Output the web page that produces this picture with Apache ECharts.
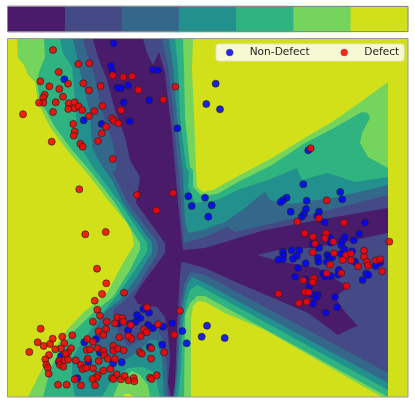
<!DOCTYPE html>
<html>
<head>
<meta charset="utf-8">
<title>Decision contours</title>
<script src="https://cdn.jsdelivr.net/npm/echarts@6/dist/echarts.min.js"></script>
<style>html,body{margin:0;padding:0;background:#fff}</style>
</head>
<body>
<div id="main" style="width:415px;height:405px;"></div>
<script type="text/javascript">
// colour steps, low to high
var levelColors = ['#4a1a6b', '#444a85', '#33688b', '#22908c', '#2fb380', '#74d45c', '#d2e01a'];
var stepNames = ['0', '1', '2', '3', '4', '5', '6'];

// contour regions, each one is "value <= level", in plot units
var region6 = [[8,39],[408,39],[408,397],[8,397]];
var region5 = [[17,39],[193,39],[192,70],[194,115],[196,170],[197,187],[203,192],[213,190],[240,175],[272,158],[308,136],[332,122],[362,101],[388,82],[388,397],[382,397],[352,380],[305,353],[265,330],[225,313],[205,302],[198,301],[193,306],[191,320],[191,397],[133,397],[130,394],[125,394],[123,397],[28,397],[33,387],[45,363],[55,347],[67,330],[83,313],[107,293],[123,263],[134,245],[132,233],[127,223],[108,200],[87,173],[67,150],[50,127],[38,103],[35,82],[28,75],[24,65],[18,58]];
var region4 = [[44,39],[183,39],[184,67],[185,117],[190,167],[193,170],[193,187],[202,196],[217,194],[240,181],[272,165],[305,143],[332,129],[362,112],[368,113],[370,118],[362,133],[360,143],[368,157],[388,168],[388,397],[205,296],[197,296],[190,303],[185,315],[184,397],[150,397],[148,385],[140,375],[132,371],[120,380],[113,397],[43,397],[50,370],[60,350],[72,333],[93,313],[113,297],[130,270],[140,250],[140,243],[115,203],[92,173],[72,150],[55,127],[40,100],[37,83],[39,72],[45,57]];
var region3 = [[60,39],[175,39],[178,67],[180,117],[186,167],[189,172],[188,187],[195,203],[217,200],[240,189],[268,180],[297,168],[302,180],[328,173],[355,182],[388,177],[388,390],[205,289],[197,285],[190,290],[186,303],[182,333],[181,367],[178,397],[160,397],[155,373],[143,367],[128,368],[110,383],[102,397],[75,397],[72,380],[72,358],[85,338],[103,313],[120,292],[135,270],[147,252],[147,243],[120,203],[93,167],[78,143],[77,127],[75,100],[72,67],[63,53]];
var region2 = [[73,39],[169,39],[173,67],[177,117],[182,167],[183,172],[185,220],[188,233],[203,230],[225,222],[245,208],[258,197],[265,192],[270,200],[290,204],[338,197],[388,185],[388,383],[205,283],[192,277],[187,285],[183,303],[180,333],[178,367],[175,397],[164,397],[162,360],[157,340],[150,340],[140,350],[125,360],[105,355],[93,345],[97,325],[105,312],[120,300],[135,280],[152,253],[152,243],[123,203],[112,180],[100,163],[92,147],[90,113],[82,80],[77,57]];
var region1 = [[83,39],[162,39],[168,67],[172,100],[175,133],[178,167],[179,172],[182,220],[184,243],[205,237],[228,227],[235,232],[295,218],[318,213],[368,200],[388,195],[388,373],[205,275],[190,272],[184,285],[181,303],[178,333],[177,367],[173,397],[168,397],[167,387],[167,367],[163,340],[157,328],[140,340],[128,347],[117,330],[113,310],[125,300],[137,287],[158,253],[158,243],[128,203],[113,173],[117,167],[113,143],[107,127],[100,103],[95,77],[88,57]];
var region0 = [[93,39],[143,39],[147,53],[153,65],[159,52],[165,73],[168,100],[172,133],[175,167],[178,203],[183,250],[205,248],[265,230],[318,220],[388,208],[388,233],[345,242],[308,248],[278,250],[257,255],[282,262],[318,268],[348,287],[335,297],[345,312],[358,326],[352,328],[338,335],[308,313],[278,300],[238,283],[205,268],[183,262],[181,263],[179,290],[178,310],[177,330],[176,357],[175,383],[173,397],[171,397],[168,383],[170,357],[168,333],[165,317],[157,307],[138,304],[134,297],[140,287],[165,253],[165,243],[136,203],[140,177],[130,160],[125,137],[115,110],[107,80],[98,57]];
var regions = [region0, region1, region2, region3, region4, region5, region6];

var nonDefect = [[113.7,43.3],[111,66],[112.3,71.3],[64.3,79.3],[153,69.7],[158,70.3],[117.3,87.7],[121,88.3],[128,85.3],[123.7,102.3],[149.3,100.3],[83.7,120.3],[101.7,124],[129.7,121.3],[177.3,128.3],[206.3,104],[188.3,196.3],[205,197.7],[191.7,206],[215.7,83.7],[220,109.3],[308.3,150.3],[303.3,184.3],[340.3,192],[342.3,199.3],[286.7,197.7],[283.3,200],[280.7,202],[306.7,200.7],[211.7,205.3],[208.3,216.7],
[143.3,309],[149,312.7],[137,315],[140.3,318.3],[135.7,321.7],[130.7,323.7],[118.3,323.3],[148,325],[153,328],[163,326.7],[172.3,323.3],[182.3,331],[186.7,343.3],[201.7,336.7],[207,325.7],[128,330.3],[96,339],[84.3,342.3],[149.7,347],[162.3,344.7],[100,352.7],[61,356],[59,362.3],[88.3,361.7],[113,363.3],[121.7,362.3],[77.3,378.3],[224.7,338],
[306,209],[290.7,211.7],[304,214],[301.7,216.7],[319,211.7],[317.3,216],[324.7,222.3],[365,222.7],[359.3,233.7],[353.7,240.3],[344.7,237],[330,237.7],[330.7,242.7],[342.3,241],[341,245],[344.3,249.3],[312.7,244.3],[319,247.7],[291.7,250.3],[299.3,250.3],[283,251.7],[283.3,255],[296.7,256],[293,258.7],[278.3,259.7],[283,259.3],[318,257.7],[318.3,261.7],[305.7,263.3],[298,268],[327.3,255],[329.3,256.7],[332.3,257.3],[341,254],[326.7,261.7],[352,251.3],[355,261.7],[380,262.7],[375.7,266],[366.3,273.7],[368.3,275],[362.7,280],[295,276.7],[323.3,273.3],[325,276.7],[331,276],[338.7,270],[338.3,274.7],[305,279.3],[309.3,286.3],[311.7,294.3],[317.7,294.7],[316,297.7],[313,303.7],[335,297],[337,307.3],[325.7,312.7]];

var defect = [[53,50],[78.3,64],[89.3,63.3],[58.7,72],[40.3,81.3],[49.3,86.3],[59.3,89],[68,83.7],[83.3,83.3],[89,90.3],[112.7,75.3],[123.3,77],[132,76.3],[100.7,86],[138.3,90],[175.3,86.7],[163.3,99.7],[44.7,94.7],[43.3,97.7],[43.3,102.7],[39,102.7],[55.7,102.3],[63,96.7],[68.7,103.3],[74.7,102.3],[68.3,109],[74.7,108.3],[78.7,106.3],[82.3,110],[53,112],[94.3,111],[102.3,106],[89,116],[23,114.3],[121,110.3],[112,118.3],[113.7,120.7],[118.3,123.3],[106,126.7],[73.3,124],[74.7,131.7],[73.7,135.7],[101.7,133.3],[98,141],[51.7,141.7],[80.3,143.7],[82.7,146.7],[112.7,159],[79.3,189.3],[137,195],[173,193],[310.7,148.3],[326.7,200.3],[156.3,210.3],
[85.3,234.3],[105.7,232],[97,268.7],[106.3,283.3],[102,294],[124,292.7],[94.7,300.7],[97.3,309.7],[100,315.7],[147,307.3],[180,310.7],[40.7,328.7],[93,321.7],[106.7,321.7],[117.3,317.3],[122.3,318.3],[115,323.3],[123.3,321.7],[130.7,325],[158,324.3],[106,329],[98.3,331.3],[144,329.3],[146.7,332.3],[72.3,335.3],[62.3,336.7],[52.7,338.7],[37.7,342.3],[43.7,346],[50,344],[64.3,343.3],[103.3,335],[87.3,339],[119.3,337.3],[131.3,338.7],[128.3,336],[140.7,336],[174.3,334.7],[93,341.7],[97.7,348.3],[71,348.3],[61,348.3],[55.3,349.3],[68.3,352.3],[65.7,354],[29.3,352],[49,355],[45.3,359.3],[46.3,364.7],[47.7,367.7],[48.7,373.7],[59.3,360.7],[64.3,360.3],[68,359.7],[60,365],[63.3,366.7],[75.7,360.3],[80.7,364.7],[82.7,369],[87.7,358.7],[98.7,361],[86.7,350],[90,349.3],[103.3,351],[104.3,355.3],[107.7,358.7],[113.3,345.7],[113.3,350.7],[118,348.7],[123.7,350.3],[115,359],[139.7,352],[141.7,353.7],[151.3,348.3],[164.3,352.3],[151,358.7],[86,368],[93,368.3],[103.3,370.7],[110.3,369],[116.7,374.3],[97.7,375],[96.7,377.7],[92.7,379],[112,377.7],[113.3,379],[74.7,379.3],[58,384.7],[66.7,384.7],[81,385.3],[95,385.3],[121,379.3],[124.7,376],[128.3,380.3],[133.7,378],[134.3,381.3],[150,377.7],[151.7,379],[156.7,375.3],
[297.3,221.7],[318.7,218.3],[344,222.7],[304.7,233.3],[313,236.7],[326,233.3],[325,238.3],[333.3,241.7],[315,243.7],[312.7,252.3],[334,253.3],[346,255.3],[350.7,253.7],[364,250.7],[364,256.7],[342.7,260],[351,260.3],[367,262],[375.7,260.3],[380.3,259.3],[389.3,241.7],[330,264.7],[358,266.3],[368,265.7],[382,271.3],[326.7,273.3],[341.3,273],[303.3,280.3],[313.7,278.3],[313,282.3],[346.3,286],[278.3,293.7],[305,292],[308.7,292.3],[299,303],[306.7,301.7]];

var myChart = echarts.init(document.getElementById('main'));

function renderRegion(params, api) {
    var pts = regions[api.value(0)].map(function (p) { return api.coord(p); });
    return {
        type: 'polygon',
        shape: { points: pts },
        style: { fill: levelColors[api.value(0)] },
        silent: true
    };
}

var dotStyle = function (c) {
    return { color: c, opacity: 0.85, borderColor: '#222', borderWidth: 0.8 };
};

myChart.setOption({
    animation: false,
    textStyle: { fontFamily: 'DejaVu Sans' },
    grid: [
        { left: 8, right: 7, top: 39, bottom: 8 },
        { left: 8, right: 7, top: 6, height: 26 }
    ],
    xAxis: [
        { type: 'value', gridIndex: 0, min: 8, max: 408, show: false },
        { type: 'category', gridIndex: 1, data: stepNames, show: false }
    ],
    yAxis: [
        { type: 'value', gridIndex: 0, min: 39, max: 397, inverse: true, show: false },
        { type: 'category', gridIndex: 1, data: ['c'], show: false }
    ],
    legend: {
        data: ['Non-Defect', 'Defect'],
        icon: 'circle',
        left: 216, top: 44,
        padding: [3, 5, 3, 10],
        itemWidth: 30, itemHeight: 7, itemGap: 31,
        itemStyle: { borderWidth: 0.4, borderColor: '#555' },
        backgroundColor: 'rgba(255,255,255,0.8)',
        borderColor: '#e4e4c8', borderWidth: 1, borderRadius: 3,
        textStyle: { fontSize: 10.6, color: '#222', fontFamily: 'DejaVu Sans' }
    },
    graphic: [
        { type: 'rect', z: 50, silent: true, shape: { x: 7.5, y: 38.5, width: 400.5, height: 358.5 }, style: { fill: 'none', stroke: '#999', lineWidth: 1 } },
        { type: 'rect', z: 50, silent: true, shape: { x: 7.5, y: 6.5, width: 400.5, height: 25 }, style: { fill: 'none', stroke: '#888', lineWidth: 1 } }
    ],
    series: [
        {
            type: 'custom',
            xAxisIndex: 0, yAxisIndex: 0,
            renderItem: renderRegion,
            encode: { x: 1, y: 2 },
            data: [6, 5, 4, 3, 2, 1, 0].map(function (k) { return [k, 100, 100]; }),
            z: 1
        },
        {
            name: 'Non-Defect', type: 'scatter',
            xAxisIndex: 0, yAxisIndex: 0,
            data: nonDefect, symbolSize: 7, itemStyle: dotStyle('#0000ff'), z: 3
        },
        {
            name: 'Defect', type: 'scatter',
            xAxisIndex: 0, yAxisIndex: 0,
            data: defect, symbolSize: 7, itemStyle: dotStyle('#ff0000'), z: 4
        },
        {
            type: 'heatmap',
            xAxisIndex: 1, yAxisIndex: 1,
            data: stepNames.map(function (s, i) {
                return { value: [i, 0, i], itemStyle: { color: levelColors[i] } };
            })
        }
    ]
});
</script>
</body>
</html>
